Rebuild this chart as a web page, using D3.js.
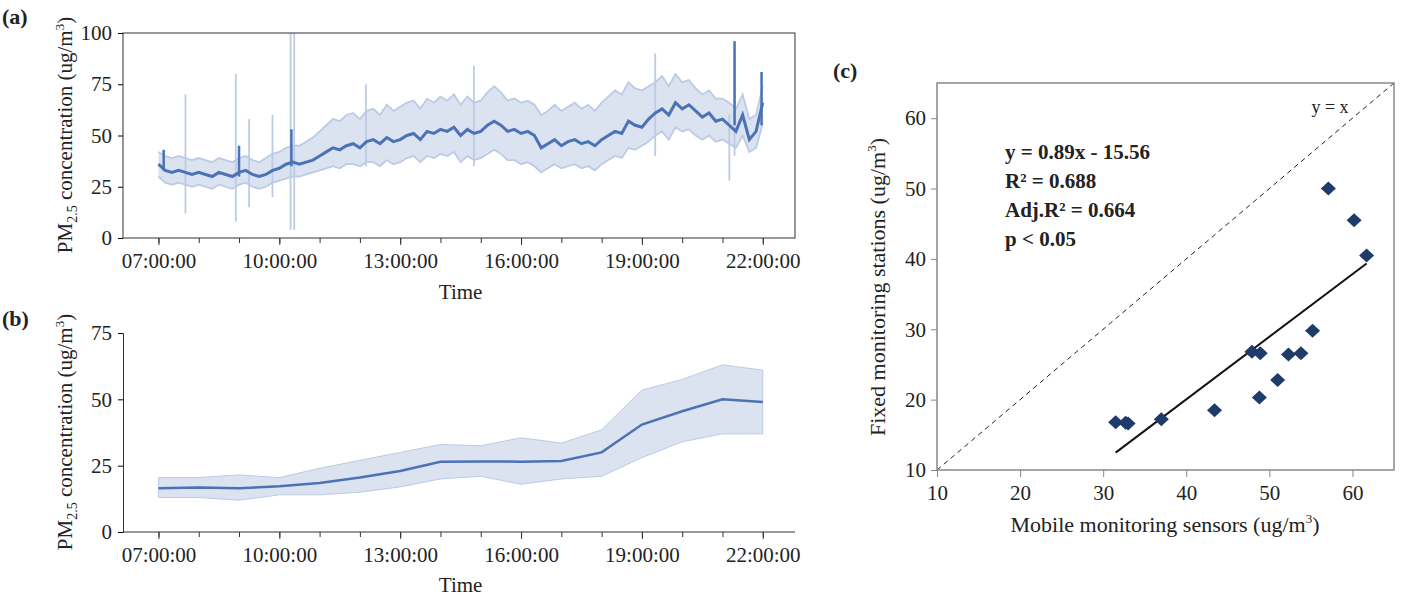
<!DOCTYPE html>
<html><head><meta charset="utf-8">
<script src="https://cdn.jsdelivr.net/npm/d3@7"></script>
<style>body{margin:0;background:#fff}text{font-family:"Liberation Serif","DejaVu Serif",serif;fill:#222}</style>
</head><body><svg id="s" width="1422" height="598"></svg>
<script>
// Panel (a): 10-minute values from 07:00 to 22:00 (hours)
const aMean=[36,33,32,33,32,31,32,31,30,32,31,30,32,33,31,30,31,33,34,36,37,36,37,38,40,42,44,43,45,46,44,47,48,46,49,47,48,50,51,48,52,51,53,52,54,50,53,51,52,55,57,55,52,53,51,52,50,44,46,48,45,47,48,46,47,45,48,50,52,51,57,55,54,58,61,63,60,66,63,65,62,59,61,57,58,55,52,60,48,52,66];
const aLow=[30,27,26,27,26,25,26,25,24,26,25,24,26,27,25,24,25,27,28,29,30,30,31,32,33,34,35,34,36,36,35,37,37,35,38,36,37,39,40,37,40,39,41,40,42,37,40,38,39,41,43,41,38,38,36,37,35,32,34,36,34,35,36,34,35,33,36,38,40,39,44,43,45,47,50,52,48,54,52,53,50,48,50,47,48,46,44,50,42,44,56];
const aHigh=[42,40,39,40,39,38,39,38,37,39,38,37,39,40,38,37,39,41,42,44,45,45,47,49,52,55,58,57,60,61,58,62,63,60,65,62,64,66,67,63,68,66,69,67,70,65,69,66,67,71,74,71,67,68,66,67,65,60,62,65,62,64,66,63,65,62,66,69,72,70,76,73,72,74,76,79,74,80,76,77,73,70,72,68,68,66,63,70,58,60,74];
const bandSpikes=[[7.67,12,70],[8.92,8,80],[9.25,15,58],[9.83,20,60],[10.28,4,100],[10.37,4,100],[12.15,35,75],[14.83,35,84],[19.33,40,90],[21.17,28,60],[21.3,40,88]];
const meanSpikes=[[7.13,33,43],[9.0,30,45],[10.3,35,53],[21.3,55,96],[21.97,55,81]];
// Panel (b): hourly
const bHours=[7,8,9,10,11,12,13,14,15,16,17,18,19,20,21,22];
const bMean=[16.5,16.8,16.5,17.2,18.5,20.5,23,26.5,26.6,26.5,26.8,30,40.5,45.5,50,49];
const bLow=[13,13,12,14,14,15,17,20,21,18,20,21,28,34,37,37];
const bHigh=[20.5,20.5,21.5,20.5,24,27,30,33,32.5,35.5,33.5,38.5,53.5,57.5,63,61];
const timeTicks=[7,10,13,16,19,22];
const timeLabels=["07:00:00","10:00:00","13:00:00","16:00:00","19:00:00","22:00:00"];
// Panel (c)
const mobile=[31.5,32.7,33,37,43.4,47.9,48.9,48.8,51,52.3,53.8,55.2,57.1,60.2,61.7];
const fixed=[16.8,16.7,16.6,17.2,18.5,26.8,26.6,20.3,22.8,26.4,26.6,29.8,50,45.5,40.5];
const fitX=[31.5,61.7], slope=0.89, icpt=-15.56;
const statLines=["y = 0.89x - 15.56","R² = 0.688","Adj.R² = 0.664","p < 0.05"];

const svg=d3.select("#s");
const FS=21;
const blue="#4a72b5", bandFill="#dbe3f1", bandEdge="#bccbe5";
function ylab(g,x,y){const t=g.append("text").attr("transform",`translate(${x},${y}) rotate(-90)`).attr("text-anchor","middle").attr("font-size",FS);
 t.append("tspan").text("PM");t.append("tspan").attr("font-size",14).attr("dy",5).text("2.5");
 t.append("tspan").attr("dy",-5).text(" concentration (ug/m");t.append("tspan").attr("font-size",13).attr("dy",-8).text("3");t.append("tspan").attr("dy",8).text(")");}
function timeAxis(x,yb,label,ly){
 const ax=svg.append("g").attr("transform",`translate(0,${yb})`).call(d3.axisBottom(x).tickValues(d3.range(7,23,1)).tickSize(5).tickFormat(""));
 ax.select(".domain").remove();ax.selectAll("line").attr("stroke","#333");
 const ax2=svg.append("g").attr("transform",`translate(0,${yb})`).call(d3.axisBottom(x).tickValues(timeTicks).tickSize(7).tickPadding(8).tickFormat((d,i)=>timeLabels[i]));
 ax2.select(".domain").remove();ax2.selectAll("line").attr("stroke","#333");ax2.selectAll("text").attr("font-size",FS).attr("font-family","Liberation Serif");
 svg.append("text").attr("x",(x(7)+x(22))/2).attr("y",ly).attr("text-anchor","middle").attr("font-size",FS).text(label);}
// (a)
{const L=123,R=795,T=33,B=238;
 const x=d3.scaleLinear([6.12,22.8],[L,R]), y=d3.scaleLinear([0,100],[B,T]);
 const n=Math.min(aMean.length,aLow.length,aHigh.length);
 const pts=d3.range(n).map(i=>({t:7+i/6,m:aMean[i],l:aLow[i],h:aHigh[i]}));
 svg.append("path").datum(pts).attr("d",d3.area().x(d=>x(d.t)).y0(d=>y(d.l)).y1(d=>y(d.h))).attr("fill",bandFill);
 ["l","h"].forEach(k=>svg.append("path").datum(pts).attr("d",d3.line().x(d=>x(d.t)).y(d=>y(d[k]))).attr("fill","none").attr("stroke",bandEdge).attr("stroke-width",1.8));
 bandSpikes.forEach(s=>svg.append("line").attr("x1",x(s[0])).attr("x2",x(s[0])).attr("y1",y(s[1])).attr("y2",y(s[2])).attr("stroke",bandEdge).attr("stroke-width",1.8));
 svg.append("path").datum(pts).attr("d",d3.line().x(d=>x(d.t)).y(d=>y(d.m))).attr("fill","none").attr("stroke",blue).attr("stroke-width",3);
 meanSpikes.forEach(s=>svg.append("line").attr("x1",x(s[0])).attr("x2",x(s[0])).attr("y1",y(s[1])).attr("y2",y(s[2])).attr("stroke",blue).attr("stroke-width",2.5));
 svg.append("rect").attr("x",L).attr("y",T).attr("width",R-L).attr("height",B-T).attr("fill","none").attr("stroke","#333");
 const ay=svg.append("g").attr("transform",`translate(${L},0)`).call(d3.axisLeft(y).tickValues([0,25,50,75,100]).tickSize(5).tickPadding(6));
 ay.select(".domain").remove();ay.selectAll("text").attr("font-size",FS).attr("font-family","Liberation Serif");
 timeAxis(x,B,"Time",299);ylab(svg,72,135);
 svg.append("text").attr("x",2).attr("y",24).attr("font-size",22).attr("font-weight","bold").text("(a)");}
// (b)
{const L=123,R=795,T=333,B=532;
 const x=d3.scaleLinear([6.12,22.8],[L,R]), y=d3.scaleLinear([0,75],[B,T]);
 const pts=bHours.map((h,i)=>({t:h,m:bMean[i],l:bLow[i],h2:bHigh[i]}));
 svg.append("path").datum(pts).attr("d",d3.area().x(d=>x(d.t)).y0(d=>y(d.l)).y1(d=>y(d.h2))).attr("fill",bandFill).attr("stroke",bandEdge).attr("stroke-width",1);
 svg.append("path").datum(pts).attr("d",d3.line().x(d=>x(d.t)).y(d=>y(d.m))).attr("fill","none").attr("stroke",blue).attr("stroke-width",2.5);
 const ay=svg.append("g").attr("transform",`translate(${L},0)`).call(d3.axisLeft(y).tickValues([0,25,50,75]).tickSize(5).tickPadding(6));
 ay.select(".domain").attr("stroke","#333");ay.selectAll("text").attr("font-size",FS).attr("font-family","Liberation Serif");
 svg.append("line").attr("x1",L).attr("x2",R).attr("y1",B).attr("y2",B).attr("stroke","#333");
 timeAxis(x,B,"Time",592);ylab(svg,72,432);
 svg.append("text").attr("x",2).attr("y",326).attr("font-size",22).attr("font-weight","bold").text("(b)");}
// (c)
{const L=937,R=1394,T=83,B=470;
 const x=d3.scaleLinear([10,65],[L,R]), y=d3.scaleLinear([10,65],[B,T]);
 svg.append("line").attr("x1",x(10)).attr("y1",y(10)).attr("x2",x(65)).attr("y2",y(65)).attr("stroke","#222").attr("stroke-dasharray","5,4");
 svg.append("line").attr("x1",x(fitX[0])).attr("y1",y(slope*fitX[0]+icpt)).attr("x2",x(fitX[1])).attr("y2",y(slope*fitX[1]+icpt)).attr("stroke","#111").attr("stroke-width",2);
 svg.selectAll(".pt").data(mobile).join("path").attr("transform",(d,i)=>`translate(${x(d)},${y(fixed[i])})`).attr("d","M0,-7L7.5,0L0,7L-7.5,0Z").attr("fill","#1f3b6b");
 svg.append("rect").attr("x",L).attr("y",T).attr("width",R-L).attr("height",B-T).attr("fill","none").attr("stroke","#888").attr("stroke-width",1.5);
 const ax=svg.append("g").attr("transform",`translate(0,${B})`).call(d3.axisBottom(x).tickValues([10,20,30,40,50,60]).tickSize(7).tickPadding(8));
 ax.select(".domain").remove();ax.selectAll("line").attr("stroke","#888");ax.selectAll("text").attr("font-size",FS).attr("font-family","Liberation Serif");
 const ay=svg.append("g").attr("transform",`translate(${L},0)`).call(d3.axisLeft(y).tickValues([10,20,30,40,50,60]).tickSize(6).tickPadding(5));
 ay.select(".domain").remove();ay.selectAll("line").attr("stroke","#888");ay.selectAll("text").attr("font-size",FS).attr("font-family","Liberation Serif");
 statLines.forEach((s,i)=>svg.append("text").attr("x",1005).attr("y",159+i*29).attr("font-size",21).attr("font-weight","bold").text(s));
 svg.append("text").attr("x",1330).attr("y",113).attr("font-size",18).attr("text-anchor","middle").text("y = x");
 const tx=svg.append("text").attr("x",1165).attr("y",532).attr("text-anchor","middle").attr("font-size",22);
 tx.append("tspan").text("Mobile monitoring sensors (ug/m");tx.append("tspan").attr("font-size",13).attr("dy",-9).text("3");tx.append("tspan").attr("dy",9).text(")");
 const ty=svg.append("text").attr("transform",`translate(885,287) rotate(-90)`).attr("text-anchor","middle").attr("font-size",22);
 ty.append("tspan").text("Fixed monitoring stations (ug/m");ty.append("tspan").attr("font-size",13).attr("dy",-9).text("3");ty.append("tspan").attr("dy",9).text(")");
 svg.append("text").attr("x",833).attr("y",78).attr("font-size",22).attr("font-weight","bold").text("(c)");}
</script></body></html>
